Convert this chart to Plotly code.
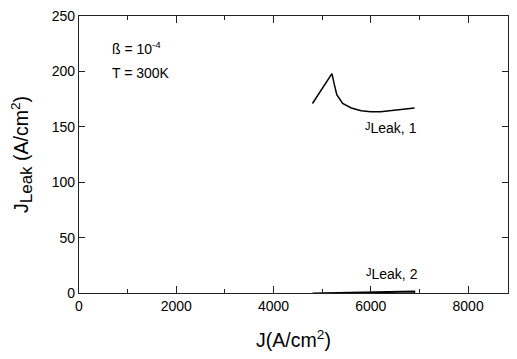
import plotly.graph_objects as go

# J_Leak,1 curve (A/cm^2) vs J (A/cm^2)
j1_x = [4800, 4950, 5100, 5200, 5250, 5300, 5420, 5600, 5800, 6000, 6200, 6400, 6600, 6900]
j1_y = [171, 181, 192, 198, 188, 179, 171, 167, 164.5, 163.5, 163.5, 164.5, 165.5, 167]

# J_Leak,2 curve (near zero, thin wedge)
j2_x = [4800, 5400, 6000, 6900, 6900, 6000, 5400, 4800]
j2_y = [0.0, 0.5, 1.0, 1.6, 0.4, 0.0, -0.3, -0.4]

x_ticks = [0, 2000, 4000, 6000, 8000]
y_ticks = [0, 50, 100, 150, 200, 250]

font = "Liberation Sans, Arial, Helvetica, sans-serif"

fig = go.Figure()
fig.add_trace(go.Scatter(x=j1_x, y=j1_y, mode="lines",
                         line=dict(color="black", width=1.5), showlegend=False))
fig.add_trace(go.Scatter(x=j2_x, y=j2_y, mode="lines",
                         line=dict(color="black", width=1.2), showlegend=False))

lbl1 = "<span style='font-size:11px'>J</span><sub><span style='font-size:14px'>Leak, 1</span></sub>"
lbl2 = "<span style='font-size:11px'>J</span><sub><span style='font-size:14px'>Leak, 2</span></sub>"
ytitle = "J<sub><span style='font-size:17px'>Leak</span></sub> (A/cm<sup>2</sup>)"

fig.update_layout(
    width=501, height=343,
    margin=dict(l=71, r=0, t=7, b=56),
    paper_bgcolor="white", plot_bgcolor="white",
    font=dict(family=font, color="black", size=14),
    xaxis=dict(range=[0, 8820], tickvals=x_ticks, ticktext=[str(v) for v in x_ticks],
               ticks="inside", ticklen=7, tickwidth=1, tickcolor="#222",
               minor=dict(dtick=1000, ticks="inside", ticklen=4, tickcolor="#222"),
               showline=True, linecolor="#222", linewidth=1.2, mirror="allticks",
               showgrid=False, zeroline=False, ticklabeloverflow="allow",
               tickfont=dict(size=14),
               title=dict(text="J(A/cm<sup>2</sup>)", font=dict(size=19.5), standoff=23)),
    yaxis=dict(range=[0, 250], tickvals=y_ticks, ticktext=[str(v) for v in y_ticks],
               ticks="inside", ticklen=6, tickwidth=1, tickcolor="#222",
               showline=True, linecolor="#222", linewidth=1.2, mirror="allticks",
               showgrid=False, zeroline=False, ticklabeloverflow="allow",
               tickfont=dict(size=14),
               title=dict(text=ytitle, font=dict(size=19.5), standoff=20)),
    annotations=[
        dict(x=640, y=221, xref="x", yref="y", text="ß = 10<sup>-4</sup>", showarrow=False,
             xanchor="left", yanchor="middle", font=dict(size=14)),
        dict(x=640, y=199, xref="x", yref="y", text="T = 300K", showarrow=False,
             xanchor="left", yanchor="middle", font=dict(size=14)),
        dict(x=5830, y=149, xref="x", yref="y", text=lbl1, showarrow=False,
             xanchor="left", yanchor="middle", font=dict(size=14)),
        dict(x=5850, y=17, xref="x", yref="y", text=lbl2, showarrow=False,
             xanchor="left", yanchor="middle", font=dict(size=14)),
    ],
)

fig.write_html("out.html")
